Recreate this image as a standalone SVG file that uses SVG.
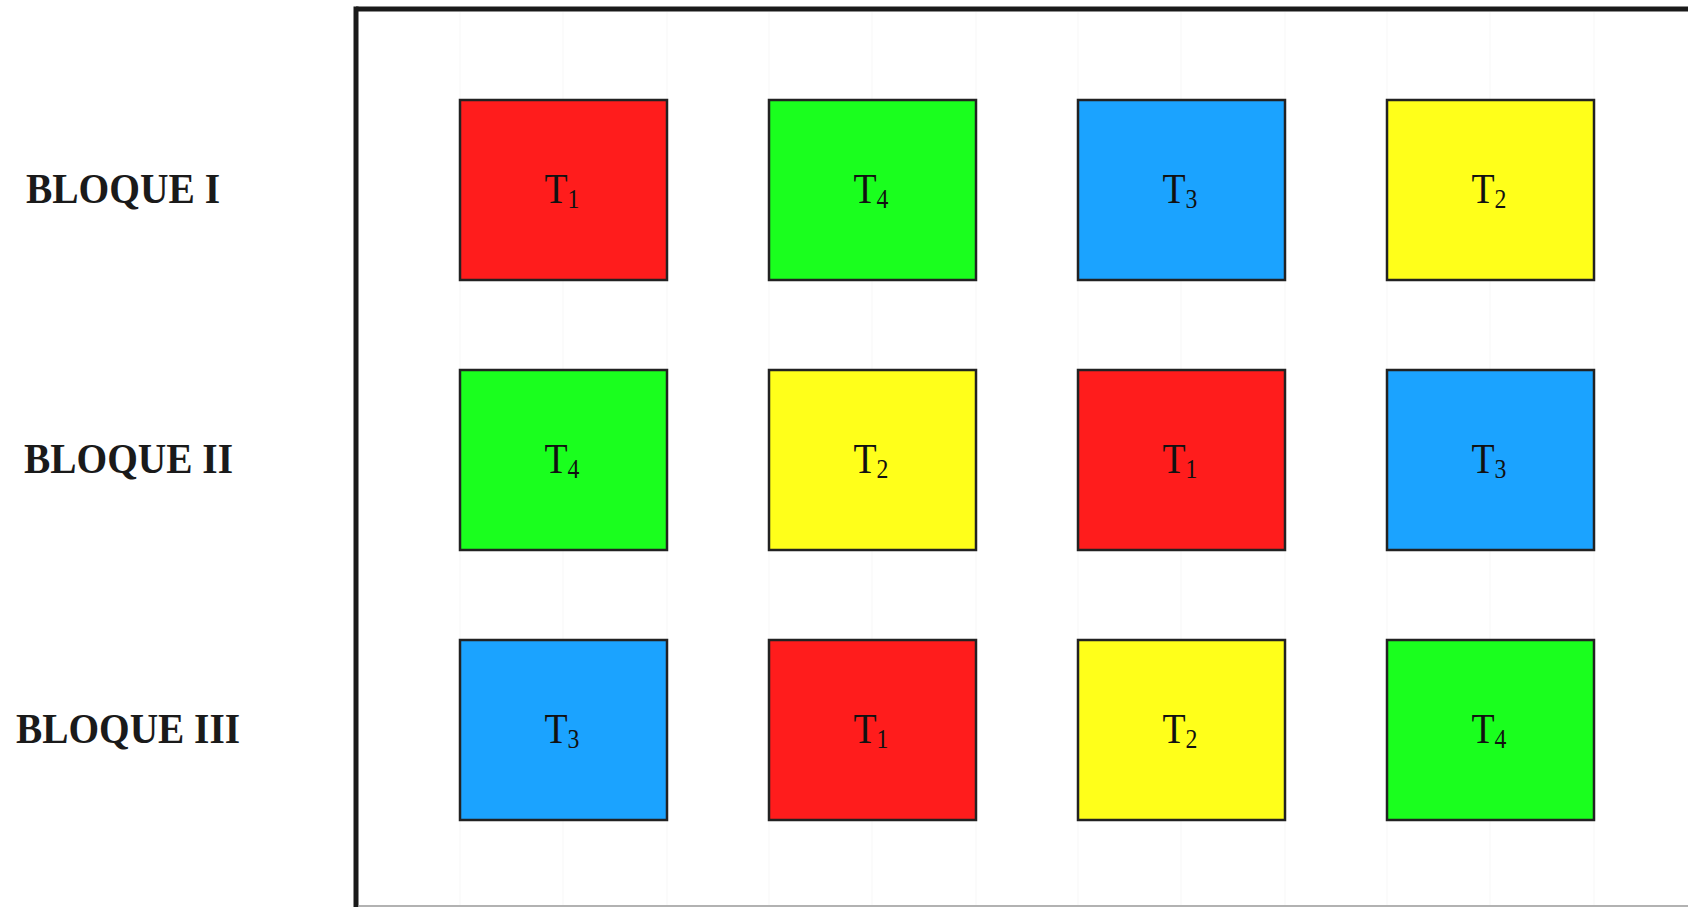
<svg xmlns="http://www.w3.org/2000/svg" width="1688" height="907" viewBox="0 0 1688 907">
<style>
.box{stroke:#222;stroke-width:2.5}
.red{fill:#FF1C1C}.green{fill:#1AFF1E}.blue{fill:#1BA3FF}.yellow{fill:#FFFF1A}
.t{font-family:"Liberation Serif","Times New Roman",serif;font-size:43px;fill:#111;text-anchor:middle}
.sub{font-size:27px}
.lbl{font-family:"Liberation Serif","Times New Roman",serif;font-size:42px;font-weight:bold;fill:#1a1a1a}
.grid{stroke:#f7f7f7;stroke-width:1}
</style>
<rect width="1688" height="907" fill="#fff"/>
<g id="gridlines">
<line class="grid" x1="460" y1="12" x2="460" y2="905"/><line class="grid" x1="563" y1="12" x2="563" y2="905"/><line class="grid" x1="667" y1="12" x2="667" y2="905"/>
<line class="grid" x1="769" y1="12" x2="769" y2="905"/><line class="grid" x1="872" y1="12" x2="872" y2="905"/><line class="grid" x1="976" y1="12" x2="976" y2="905"/>
<line class="grid" x1="1078" y1="12" x2="1078" y2="905"/><line class="grid" x1="1181" y1="12" x2="1181" y2="905"/><line class="grid" x1="1285" y1="12" x2="1285" y2="905"/>
<line class="grid" x1="1387" y1="12" x2="1387" y2="905"/><line class="grid" x1="1490" y1="12" x2="1490" y2="905"/><line class="grid" x1="1594" y1="12" x2="1594" y2="905"/>
</g>
<g id="frame">
<line x1="356" y1="9" x2="1688" y2="9" stroke="#1a1a1a" stroke-width="5"/>
<line x1="356" y1="6.5" x2="356" y2="907" stroke="#1a1a1a" stroke-width="5"/>
<line x1="358" y1="906" x2="1688" y2="906" stroke="#999" stroke-width="1.5"/>
</g>
<g id="labels">
<text id="bloque1" class="lbl" x="26" y="203" textLength="194" lengthAdjust="spacingAndGlyphs">BLOQUE I</text>
<text id="bloque2" class="lbl" x="24" y="473" textLength="209" lengthAdjust="spacingAndGlyphs">BLOQUE II</text>
<text id="bloque3" class="lbl" x="16" y="743" textLength="224" lengthAdjust="spacingAndGlyphs">BLOQUE III</text>
</g>
<g id="r1c1"><rect class="box red" x="460" y="100" width="207" height="180"/><text class="t" x="562" y="203" textLength="35" lengthAdjust="spacingAndGlyphs">T<tspan class="sub" dy="4.5">1</tspan></text></g>
<g id="r1c2"><rect class="box green" x="769" y="100" width="207" height="180"/><text class="t" x="871" y="203" textLength="35" lengthAdjust="spacingAndGlyphs">T<tspan class="sub" dy="4.5">4</tspan></text></g>
<g id="r1c3"><rect class="box blue" x="1078" y="100" width="207" height="180"/><text class="t" x="1180" y="203" textLength="35" lengthAdjust="spacingAndGlyphs">T<tspan class="sub" dy="4.5">3</tspan></text></g>
<g id="r1c4"><rect class="box yellow" x="1387" y="100" width="207" height="180"/><text class="t" x="1489" y="203" textLength="35" lengthAdjust="spacingAndGlyphs">T<tspan class="sub" dy="4.5">2</tspan></text></g>
<g id="r2c1"><rect class="box green" x="460" y="370" width="207" height="180"/><text class="t" x="562" y="473" textLength="35" lengthAdjust="spacingAndGlyphs">T<tspan class="sub" dy="4.5">4</tspan></text></g>
<g id="r2c2"><rect class="box yellow" x="769" y="370" width="207" height="180"/><text class="t" x="871" y="473" textLength="35" lengthAdjust="spacingAndGlyphs">T<tspan class="sub" dy="4.5">2</tspan></text></g>
<g id="r2c3"><rect class="box red" x="1078" y="370" width="207" height="180"/><text class="t" x="1180" y="473" textLength="35" lengthAdjust="spacingAndGlyphs">T<tspan class="sub" dy="4.5">1</tspan></text></g>
<g id="r2c4"><rect class="box blue" x="1387" y="370" width="207" height="180"/><text class="t" x="1489" y="473" textLength="35" lengthAdjust="spacingAndGlyphs">T<tspan class="sub" dy="4.5">3</tspan></text></g>
<g id="r3c1"><rect class="box blue" x="460" y="640" width="207" height="180"/><text class="t" x="562" y="743" textLength="35" lengthAdjust="spacingAndGlyphs">T<tspan class="sub" dy="4.5">3</tspan></text></g>
<g id="r3c2"><rect class="box red" x="769" y="640" width="207" height="180"/><text class="t" x="871" y="743" textLength="35" lengthAdjust="spacingAndGlyphs">T<tspan class="sub" dy="4.5">1</tspan></text></g>
<g id="r3c3"><rect class="box yellow" x="1078" y="640" width="207" height="180"/><text class="t" x="1180" y="743" textLength="35" lengthAdjust="spacingAndGlyphs">T<tspan class="sub" dy="4.5">2</tspan></text></g>
<g id="r3c4"><rect class="box green" x="1387" y="640" width="207" height="180"/><text class="t" x="1489" y="743" textLength="35" lengthAdjust="spacingAndGlyphs">T<tspan class="sub" dy="4.5">4</tspan></text></g>
</svg>
